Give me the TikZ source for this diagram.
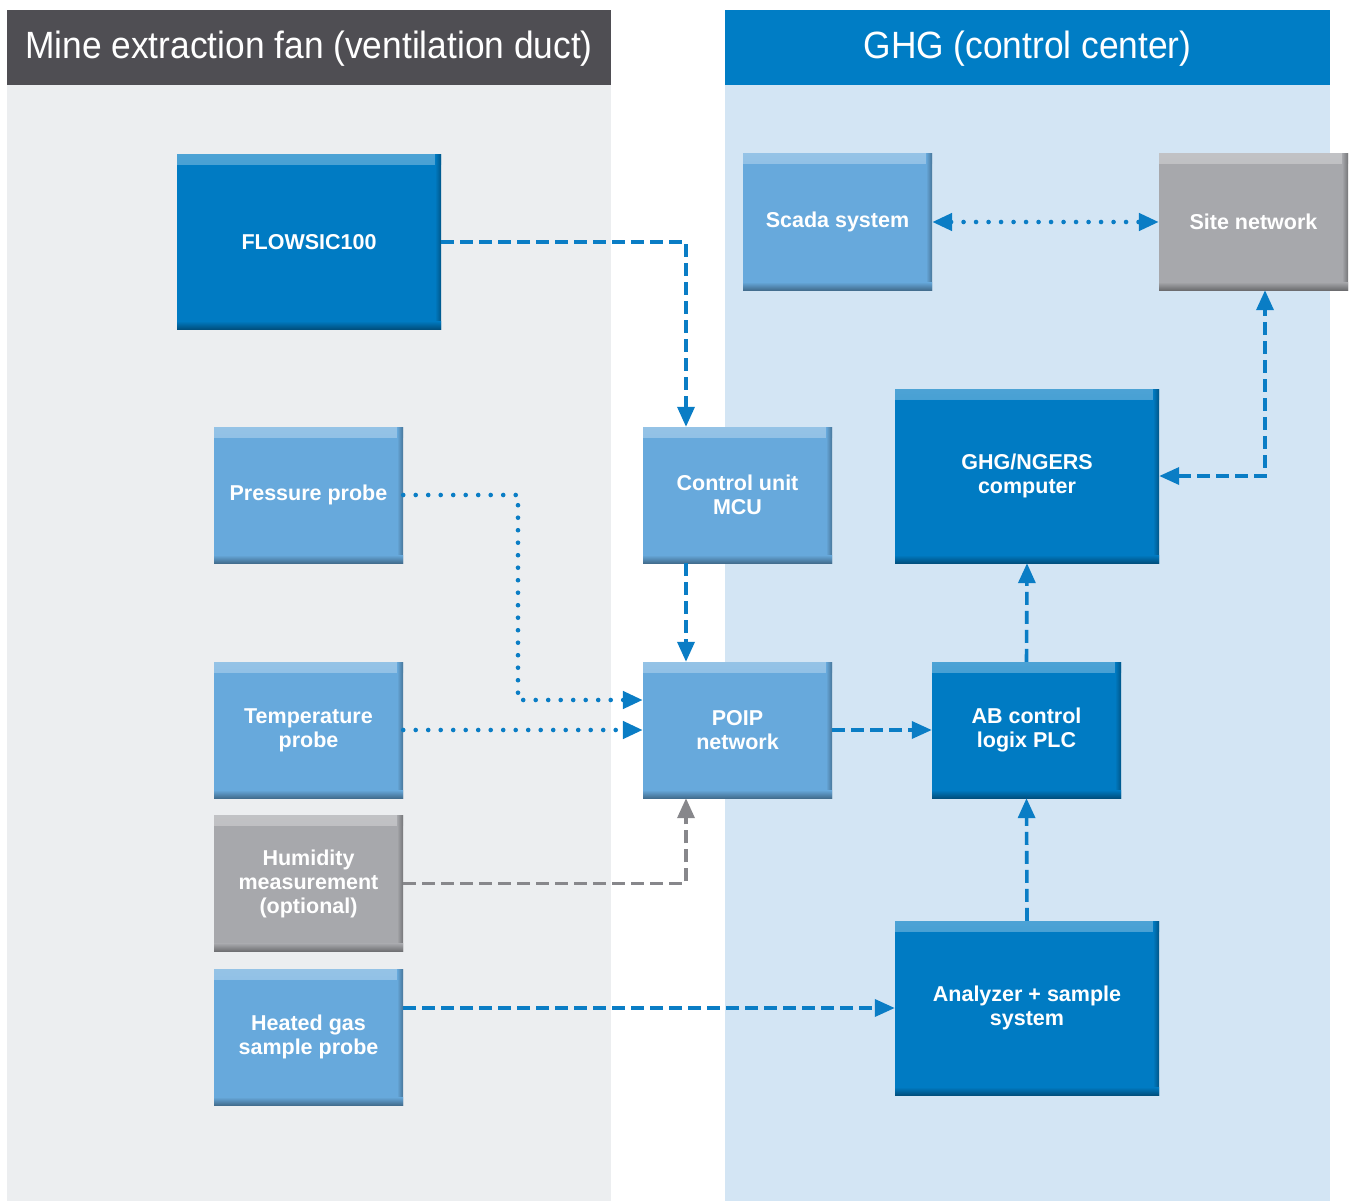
\documentclass[tikz,border=0pt]{standalone}
\usepackage{fontspec}
\setmainfont{Liberation Sans}
\usetikzlibrary{arrows.meta,calc}
\definecolor{dblue}{HTML}{007BC3}
\definecolor{lblue}{HTML}{67A9DC}
\definecolor{gbox}{HTML}{A7A8AC}
\definecolor{lbg}{HTML}{ECEEF0}
\definecolor{rbg}{HTML}{D3E5F4}
\definecolor{dhead}{HTML}{4F4E53}
\definecolor{bhead}{HTML}{007DC5}
\definecolor{arrblue}{HTML}{0A7DC5}
\definecolor{arrgray}{HTML}{87878B}
\tikzset{
  bev/.style={fill=#1, text=white, inner sep=0pt, align=center,
    font=\fontsize{21.5}{24}\selectfont\bfseries,
    path picture={
      \shade[top color=#1!70!white, bottom color=#1] (path picture bounding box.north west) rectangle ([yshift=-10pt]path picture bounding box.north east);
      \shade[left color=#1, right color=#1!70!black] ([xshift=-6pt]path picture bounding box.north east) rectangle (path picture bounding box.south east);
      \shade[top color=#1, bottom color=#1!65!black] ([yshift=8pt]path picture bounding box.south west) rectangle (path picture bounding box.south east);
    }},
  small/.style={minimum width=189pt, minimum height=136pt},
  big/.style={minimum width=264pt, minimum height=174pt},
  plc/.style={minimum width=189pt, minimum height=136pt},
  conn/.style={line width=3.6pt, draw=arrblue, -{Triangle[length=20pt,width=17pt]}},
  dsh/.style={dash pattern=on 13pt off 6pt},
  dots/.style={line cap=round, dash pattern=on 0pt off 12.5pt, line width=4.6pt},
  hdr/.style={text=white, font=\fontsize{38}{44}\selectfont}
}
\begin{document}
\begin{tikzpicture}[x=1pt,y=-1pt]
\useasboundingbox (0,0) rectangle (1352,1201);
% panels
\fill[lbg] (7,85) rectangle (611,1201);
\fill[dhead] (7,10) rectangle (611,85);
\fill[rbg] (725,85) rectangle (1330,1201);
\fill[bhead] (725,10) rectangle (1330,85);
\node[hdr] (h1) at (309,49) {\scalebox{0.93}[1]{Mine extraction fan (ventilation duct)}};
\node[hdr] (h2) at (1027.5,49) {\scalebox{0.93}[1]{GHG (control center)}};
% boxes
\node[bev=dblue, big] (fl) at (309,242) {FLOWSIC100};
\node[bev=lblue, small] (pp) at (308.5,495) {Pressure probe};
\node[bev=lblue, small] (tp) at (308.5,730) {Temperature\\probe};
\node[bev=gbox, small] (hu) at (308.5,883.5) {Humidity\\measurement\\(optional)};
\node[bev=lblue, small] (hg) at (308.5,1037) {Heated gas\\sample probe};
\node[bev=lblue, small] (mcu) at (737.5,495) {Control unit\\MCU};
\node[bev=lblue, small] (po) at (737.5,730) {POIP\\network};
\node[bev=lblue, small] (sc) at (837.5,222) {Scada system};
\node[bev=gbox, small] (sn) at (1253.5,222) {Site network};
\node[bev=dblue, big] (gc) at (1027,476) {GHG/NGERS\\computer};
\node[bev=dblue, plc] (ab) at (1026.5,730) {AB control\\logix PLC};
\node[bev=dblue, big] (an) at (1027,1008) {Analyzer + sample\\system};
% helper coordinates
\coordinate (c1) at (686,0);
\coordinate (c2) at (518,700);
\coordinate (c3) at (1265,0);
% connectors
\draw[conn,dsh] (fl.east) -| (c1 |- mcu.north);
\draw[conn,dsh] (c1 |- mcu.south) -- (c1 |- po.north);
\draw[conn,dots] (pp.east) -| (c2) -- (c2 -| po.west);
\draw[conn,dots] (tp.east) -- (tp.east -| po.west);
\draw[conn,dsh,draw=arrgray,arrgray] (hu.east) -| (c1 |- po.south);
\draw[conn,dsh] (an.west -| hg.east) -- (an.west);
\draw[conn,dsh] (po.east) -- (ab.west);
\draw[conn,dsh] (ab.north) -- (gc.south);
\draw[conn,dsh] (an.north) -- (ab.south);
\draw[conn,dsh,{Triangle[length=20pt,width=17pt]}-{Triangle[length=20pt,width=17pt]}] (gc.east) -| (c3 |- sn.south);
\draw[conn,dots,{Triangle[length=20pt,width=17pt]}-{Triangle[length=20pt,width=17pt]}] (sc.east) -- (sn.west);
\end{tikzpicture}
\end{document}
